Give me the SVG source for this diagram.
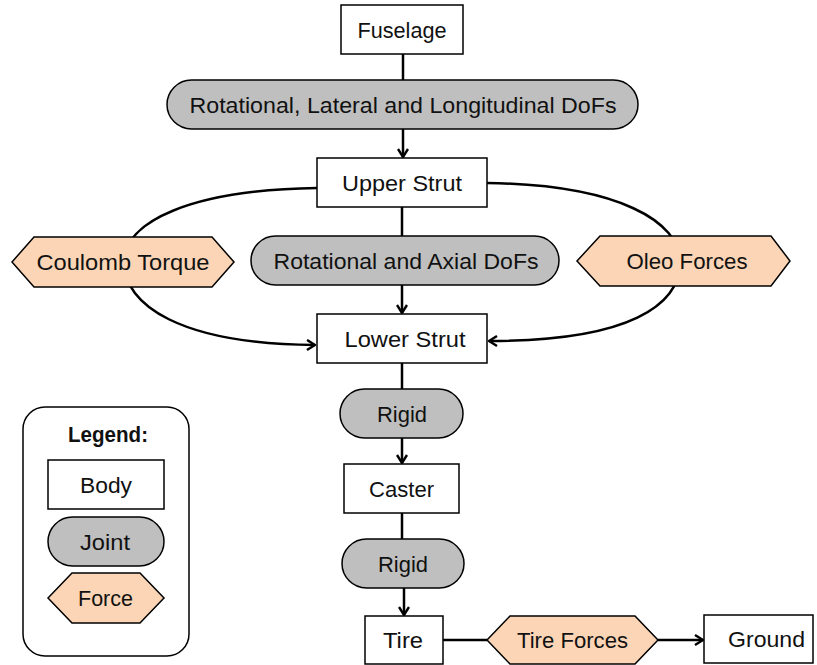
<svg xmlns="http://www.w3.org/2000/svg" width="817" height="665" viewBox="0 0 817 665">
<style>
text{font-family:"Liberation Sans",Arial,sans-serif;font-size:22px;fill:#111;text-anchor:middle}
.body{fill:#fff;stroke:#000;stroke-width:1.5}
.joint{fill:#bfbfbf;stroke:#000;stroke-width:1.5}
.force{fill:#fbd5b5;stroke:#000;stroke-width:1.5}
.conn{fill:none;stroke:#000;stroke-width:2.5}
.arr{marker-end:url(#arrow)}
</style>
<defs>
<marker id="arrow" viewBox="0 0 10 12" refX="9" refY="6" markerWidth="10" markerHeight="12" markerUnits="userSpaceOnUse" orient="auto">
<path d="M1,1 L9,6 L1,11" fill="none" stroke="#000" stroke-width="2.4"/>
</marker>
</defs>
<g id="connectors">
<path class="conn" d="M403,54 V80"/>
<path class="conn arr" d="M403,129 V157"/>
<path class="conn" d="M402,207 V236"/>
<path class="conn arr" d="M402,285 V313"/>
<path class="conn" d="M402,363 V389"/>
<path class="conn arr" d="M402,438 V463"/>
<path class="conn" d="M402,513 V539"/>
<path class="conn arr" d="M404,588 V615"/>
<path class="conn" d="M443,640 H487"/>
<path class="conn arr" d="M658,640 H703"/>
<path class="conn arr" d="M317,188 C190,190 124,222 124,262 C124,305 180,344 315,345"/>
<path class="conn arr" d="M487,183 C620,185 680,222 680,262 C680,305 630,341 489,341"/>
</g>
<g id="fuselage"><rect class="body" x="341" y="5" width="122" height="49"/><text x="402" y="37.5" textLength="89" lengthAdjust="spacingAndGlyphs">Fuselage</text></g>
<g id="joint-top"><rect class="joint" x="167" y="80" width="471" height="49" rx="24.5"/><text x="403" y="112.5" textLength="427" lengthAdjust="spacingAndGlyphs">Rotational, Lateral and Longitudinal DoFs</text></g>
<g id="upper-strut"><rect class="body" x="317" y="158" width="170" height="49"/><text x="402" y="190.5" textLength="120" lengthAdjust="spacingAndGlyphs">Upper Strut</text></g>
<g id="coulomb-torque"><polygon class="force" points="12,262 34,237 212,237 234,262 212,287 34,287"/><text x="123" y="270" textLength="173" lengthAdjust="spacingAndGlyphs">Coulomb Torque</text></g>
<g id="joint-mid"><rect class="joint" x="251" y="236" width="308" height="49" rx="24.5"/><text x="406" y="268.5" textLength="265" lengthAdjust="spacingAndGlyphs">Rotational and Axial DoFs</text></g>
<g id="oleo-forces"><polygon class="force" points="577,261 600,236 771,236 790,261 771,286 600,286"/><text x="687" y="269" textLength="121" lengthAdjust="spacingAndGlyphs">Oleo Forces</text></g>
<g id="lower-strut"><rect class="body" x="317" y="314" width="170" height="49"/><text x="405" y="346.5" textLength="121" lengthAdjust="spacingAndGlyphs">Lower Strut</text></g>
<g id="rigid-1"><rect class="joint" x="340" y="389" width="123" height="49" rx="24.5"/><text x="402" y="421.5" textLength="50" lengthAdjust="spacingAndGlyphs">Rigid</text></g>
<g id="caster"><rect class="body" x="344" y="464" width="115" height="49"/><text x="401.5" y="496.5" textLength="65" lengthAdjust="spacingAndGlyphs">Caster</text></g>
<g id="rigid-2"><rect class="joint" x="342" y="539" width="122" height="49" rx="24.5"/><text x="403" y="571.5" textLength="50" lengthAdjust="spacingAndGlyphs">Rigid</text></g>
<g id="tire"><rect class="body" x="365" y="616" width="78" height="48"/><text x="403" y="648" textLength="40" lengthAdjust="spacingAndGlyphs">Tire</text></g>
<g id="tire-forces"><polygon class="force" points="487,640 510,616 635,616 658,640 635,664 510,664"/><text x="572.5" y="648" textLength="111" lengthAdjust="spacingAndGlyphs">Tire Forces</text></g>
<g id="ground"><rect class="body" x="704" y="615" width="109" height="48"/><text x="766.5" y="647" textLength="77" lengthAdjust="spacingAndGlyphs">Ground</text></g>
<g id="legend">
<rect x="23" y="407" width="166" height="249" rx="22" fill="#fff" stroke="#000" stroke-width="1.5"/>
<text x="108" y="442" font-weight="bold" textLength="80" lengthAdjust="spacingAndGlyphs">Legend:</text>
<rect class="body" x="48" y="460" width="116" height="49"/><text x="106" y="492.5" textLength="52" lengthAdjust="spacingAndGlyphs">Body</text>
<rect class="joint" x="48" y="517" width="116" height="49" rx="24.5"/><text x="105" y="549.5" textLength="50" lengthAdjust="spacingAndGlyphs">Joint</text>
<polygon class="force" points="48,598 72,573 140,573 164,598 140,623 72,623"/><text x="105.5" y="606" textLength="55" lengthAdjust="spacingAndGlyphs">Force</text>
</g>
</svg>
